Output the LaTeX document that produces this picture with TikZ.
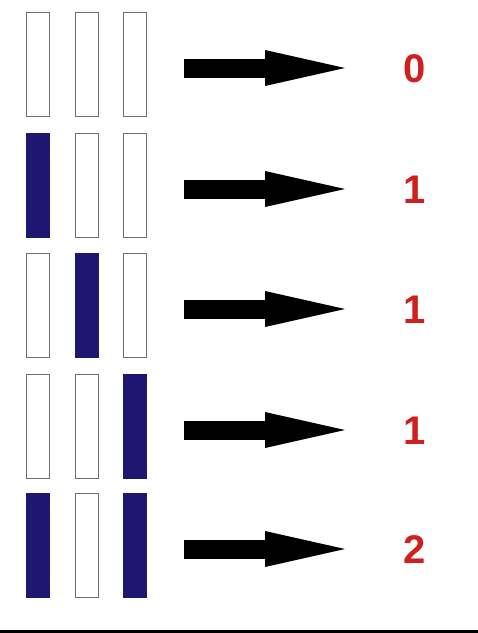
\documentclass[tikz,border=0pt]{standalone}
\usepackage{fontspec}
\setmainfont{Liberation Sans}
\usetikzlibrary{calc}
\definecolor{barblue}{RGB}{30,22,112}
\definecolor{numred}{RGB}{208,32,30}
\definecolor{edgegray}{RGB}{110,110,110}
\tikzset{
  bar/.style={rectangle, minimum width=23pt, minimum height=104pt, inner sep=0pt, draw=edgegray, line width=0.9pt, fill=white},
  onbar/.style={bar, fill=barblue, draw=barblue},
  shaft/.style={line width=19pt, black},
  head/.style={fill=black},
  num/.style={text=numred, font=\fontsize{40}{40}\selectfont\bfseries, inner sep=0pt}
}
\begin{document}
\begin{tikzpicture}[x=1pt,y=-1pt]
\useasboundingbox (0,0) rectangle (478,633);
\fill[white] (0,0) rectangle (478,633);
\foreach \r/\yc/\a/\b/\c/\n in {1/64/bar/bar/bar/0, 2/185/onbar/bar/bar/1, 3/305/bar/onbar/bar/1, 4/426/bar/bar/onbar/1, 5/545/onbar/bar/onbar/2}{
  \node[\a] (b\r a) at (38,\yc) {};
  \node[\b] (b\r b) at (86.5,\yc) {};
  \node[\c] (b\r c) at (134.5,\yc) {};
  \coordinate (s\r) at (184,\yc+4);
  \coordinate (t\r) at (345,\yc+4);
  \draw[shaft] (s\r) -- ($(t\r)+(-79,0)$);
  \fill[head] (t\r) -- ++(-80,-18) -- ++(0,36) -- cycle;
  \node[num] (n\r) at (415,\yc+5) {\n};
}
\coordinate (l0) at (0,631);
\coordinate (l1) at (478,631);
\draw[line width=3pt] (l0) -- (l1);
\end{tikzpicture}
\end{document}
